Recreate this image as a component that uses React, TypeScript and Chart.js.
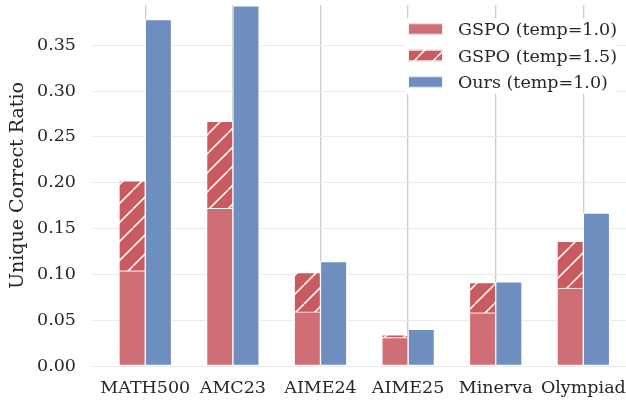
import React, { useEffect, useRef } from 'react';
import { Chart, registerables } from 'chart.js';

Chart.register(...registerables);

// Benchmarks and their unique-correct ratios
const categories = ['MATH500', 'AMC23', 'AIME24', 'AIME25', 'Minerva', 'Olympiad'];
const gspoTemp10 = [0.104, 0.172, 0.059, 0.031, 0.058, 0.085];
const gspoTemp15 = [0.202, 0.267, 0.102, 0.034, 0.091, 0.136];
const oursTemp10 = [0.378, 0.393, 0.114, 0.040, 0.092, 0.167];
const yTicks = [0, 0.05, 0.1, 0.15, 0.2, 0.25, 0.3, 0.35];
const legendLabels = ['GSPO (temp=1.0)', 'GSPO (temp=1.5)', 'Ours (temp=1.0)'];

const Y_MAX = 0.394;
const BAR_WIDTH = 0.3; // in category units
const HALF = BAR_WIDTH / 2;

const RED = 'rgb(207,110,116)';
const RED_DARK = 'rgb(201,90,96)';
const BLUE = 'rgb(111,142,192)';
const FONT_FAMILY = '"DejaVu Serif", "Liberation Serif", serif';
const FONT_SIZE = 17.5;
const TITLE_SIZE = 19;
const TEXT = '#262626';

function makeHatch(): CanvasPattern | string {
  const size = 19;
  const c = document.createElement('canvas');
  c.width = size;
  c.height = size;
  const g = c.getContext('2d');
  if (!g) return RED_DARK;
  g.fillStyle = RED_DARK;
  g.fillRect(0, 0, size, size);
  g.strokeStyle = 'rgba(255,255,255,0.92)';
  g.lineWidth = 1.6;
  g.beginPath();
  for (const o of [-size, 0, size]) {
    g.moveTo(o, size);
    g.lineTo(o + size, 0);
  }
  g.stroke();
  return g.createPattern(c, 'repeat') || RED_DARK;
}

export default function App() {
  const ref = useRef<HTMLCanvasElement>(null);

  useEffect(() => {
    const canvas = ref.current;
    if (!canvas) return;
    const hatch = makeHatch();

    const cornerLegend = {
      id: 'cornerLegend',
      afterDraw(chart: any) {
        const ctx: CanvasRenderingContext2D = chart.ctx;
        const area = chart.chartArea;
        const boxX = area.right - 222;
        const boxY = area.top + 13;
        ctx.save();
        ctx.fillStyle = '#ffffff';
        ctx.fillRect(boxX, boxY, 212, 76);
        const fills: (string | CanvasPattern)[] = [RED, hatch, BLUE];
        const handleX = boxX + 4;
        const handleW = 35;
        const handleH = 11.5;
        const textX = boxX + 54;
        const firstRow = boxY + 11;
        const rowStep = 26.5;
        ctx.font = `${FONT_SIZE}px ${FONT_FAMILY}`;
        ctx.textAlign = 'left';
        ctx.textBaseline = 'alphabetic';
        legendLabels.forEach((label, i) => {
          const cy = firstRow + i * rowStep;
          ctx.fillStyle = fills[i] as any;
          ctx.fillRect(handleX, cy - handleH / 2, handleW, handleH);
          ctx.strokeStyle = 'rgba(255,255,255,0.9)';
          ctx.lineWidth = 1;
          ctx.strokeRect(handleX + 0.5, cy - handleH / 2 + 0.5, handleW - 1, handleH - 1);
          ctx.fillStyle = TEXT;
          ctx.fillText(label, textX, cy + 6.4);
        });
        ctx.restore();
      },
    };

    const barCommon = {
      grouped: false,
      categoryPercentage: 1,
      barPercentage: 1,
      borderColor: '#ffffff',
      borderWidth: 1,
    };

    const chart = new Chart(canvas, {
      type: 'bar',
      data: {
        datasets: [
          {
            ...barCommon,
            label: legendLabels[0],
            data: categories.map((_, i) => ({ x: i - HALF, y: gspoTemp10[i] })),
            backgroundColor: RED,
            borderSkipped: false,
          },
          {
            ...barCommon,
            label: legendLabels[1],
            data: categories.map((_, i) => ({ x: i - HALF, y: [gspoTemp10[i], gspoTemp15[i]] })),
            backgroundColor: hatch as any,
            borderSkipped: 'bottom',
          },
          {
            ...barCommon,
            label: legendLabels[2],
            data: categories.map((_, i) => ({ x: i + HALF, y: oursTemp10[i] })),
            backgroundColor: BLUE,
            borderSkipped: false,
          },
        ] as any,
      },
      options: {
        animation: false,
        responsive: false,
        devicePixelRatio: 1,
        layout: { padding: { top: 5, left: 0, right: 0, bottom: 0 } },
        plugins: {
          legend: { display: false },
          tooltip: { enabled: false },
        },
        scales: {
          x: {
            type: 'linear',
            min: -0.608,
            max: 5.487,
            offset: false,
            afterBuildTicks: (s: any) => {
              s.ticks = categories.map((_, i) => ({ value: i }));
            },
            afterFit: (s: any) => {
              s.height = 34;
              s.paddingLeft = 0;
              s.paddingRight = 0;
            },
            ticks: {
              callback: (v: any) => categories[Math.round(Number(v))],
              font: { family: FONT_FAMILY, size: FONT_SIZE },
              color: TEXT,
              padding: 11.5,
              maxRotation: 0,
              autoSkip: false,
            },
            grid: { offset: false, color: '#cccccc', lineWidth: 1.3, drawTicks: false },
            border: { display: false },
          },
          y: {
            type: 'linear',
            min: 0,
            max: Y_MAX,
            afterBuildTicks: (s: any) => {
              s.ticks = yTicks.map((v) => ({ value: v }));
            },
            afterFit: (s: any) => {
              s.width = 92;
              s.paddingTop = 0;
              s.paddingBottom = 0;
            },
            ticks: {
              callback: (v: any) => Number(v).toFixed(2),
              font: { family: FONT_FAMILY, size: FONT_SIZE },
              color: TEXT,
              padding: 16,
            },
            grid: { color: '#ebebeb', lineWidth: 1, drawTicks: false },
            border: { display: false },
            title: {
              display: true,
              text: 'Unique Correct Ratio',
              font: { family: FONT_FAMILY, size: TITLE_SIZE },
              color: TEXT,
              padding: { top: 7, bottom: 0 },
            },
          },
        },
      } as any,
      plugins: [cornerLegend],
    });

    return () => chart.destroy();
  }, []);

  return (
    <div style={{ position: 'absolute', left: 0, top: 0, width: 626, height: 400 }}>
      <canvas ref={ref} width={626} height={400} style={{ display: 'block' }} />
    </div>
  );
}
